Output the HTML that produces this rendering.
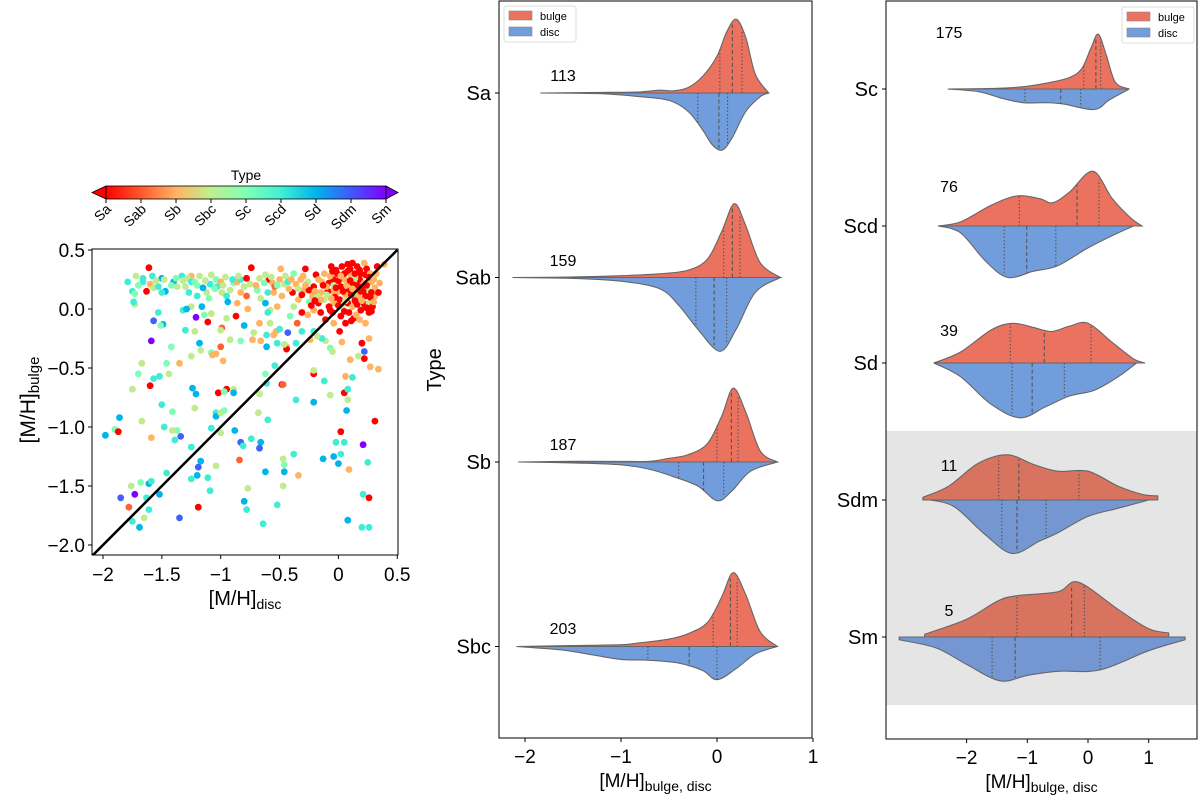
<!DOCTYPE html>
<html><head><meta charset="utf-8"><style>
body{margin:0;background:#fff}
svg{display:block;font-family:"Liberation Sans","DejaVu Sans",sans-serif}
</style></head><body>
<svg id="fig" width="1200" height="797" viewBox="0 0 1200 797" xmlns="http://www.w3.org/2000/svg">
<defs>
<linearGradient id="cbg" x1="0" x2="1" y1="0" y2="0">
<stop offset="0" stop-color="rgb(255,0,0)"/><stop offset="0.125" stop-color="rgb(255,88,45)"/><stop offset="0.25" stop-color="rgb(255,180,99)"/><stop offset="0.375" stop-color="rgb(191,240,143)"/><stop offset="0.5" stop-color="rgb(128,255,180)"/><stop offset="0.625" stop-color="rgb(64,240,212)"/><stop offset="0.75" stop-color="rgb(0,180,236)"/><stop offset="0.875" stop-color="rgb(64,88,251)"/><stop offset="1" stop-color="rgb(128,0,255)"/>
</linearGradient>
<clipPath id="scClip"><rect x="92" y="249" width="306" height="306"/></clipPath>
</defs>
<g id="scatterPanel"></g>
<g id="midPanel"></g>
<g id="rightPanel"></g>
</svg>
<script>
const typeNames = ["Sa","Sab","Sb","Sbc","Sc","Scd","Sd","Sdm","Sm"];
// scatter: [disc, bulge, typeIndex]
const scatterPoints = [
[-1.98,-1.07,6],[-1.86,-0.92,6],[-1.9,-1.02,4],[-1.87,-1.04,0],[-1.85,-1.6,7],[-1.73,-1.57,8],[-1.78,-1.68,1],[-1.75,-1.8,5],[-1.69,-1.85,6],[-1.76,-1.5,3],[-1.68,-1.47,4],[-1.61,-1.48,6],[-1.59,-1.46,5],[-1.63,-1.6,5],[-1.61,-1.7,5],[-1.65,-1.77,3],[-1.52,-1.57,6],[-1.46,-1.39,5],[-1.35,-1.77,7],[-1.25,-1.44,5],[-1.19,-1.68,0],[-1.17,-1.29,6],[-1.19,-1.34,7],[-1.2,-1.41,6],[-1.11,-1.43,5],[-1.09,-1.54,5],[-1.04,-1.33,3],[-1.25,-1.17,5],[-1.34,-1.08,7],[-1.39,-1.11,5],[-1.37,-1.03,4],[-1.41,-1.03,3],[-1.48,-1.0,5],[-1.5,-0.81,5],[-1.41,-0.87,4],[-1.67,-0.95,3],[-1.59,-1.09,2],[-1.75,-0.68,3],[-1.7,-0.55,4],[-1.67,-0.46,3],[-1.6,-0.65,0],[-1.57,-0.59,5],[-1.52,-0.57,5],[-1.46,-0.46,4],[-1.44,-0.55,3],[-1.42,-0.32,4],[-1.35,-0.46,2],[-1.59,-0.27,8],[-1.57,-0.1,7],[-1.49,-0.13,6],[-1.53,-0.03,5],[-1.51,-0.14,4],[-1.21,-0.07,8],[-1.24,-0.67,6],[-1.21,-0.72,6],[-1.22,-0.84,3],[-1.18,-0.29,6],[-1.17,-0.35,3],[-1.25,-0.4,3],[-1.3,-0.18,5],[-1.22,-0.19,3],[-1.08,-0.37,4],[-1.07,-0.39,2],[-1.04,-0.38,2],[-0.98,-0.44,2],[-1.0,-0.32,1],[-1.02,-0.71,0],[-0.95,-0.68,0],[-0.97,-0.7,4],[-0.89,-0.68,3],[-0.89,-0.71,6],[-1.04,-0.88,5],[-1.04,-0.91,6],[-1.0,-0.88,3],[-0.97,-0.86,4],[-1.08,-1.01,5],[-1.0,-1.05,3],[-0.88,-1.03,6],[-0.83,-1.13,7],[-0.81,-1.16,5],[-0.84,-1.28,1],[-0.74,-1.1,5],[-0.66,-1.13,6],[-0.67,-1.18,7],[-0.62,-1.38,6],[-0.77,-1.52,3],[-0.8,-1.63,6],[-0.78,-1.7,5],[-0.64,-1.82,5],[-0.52,-1.66,5],[-0.47,-1.5,3],[-0.46,-1.38,6],[-0.47,-1.27,3],[-0.46,-1.32,4],[-0.38,-1.23,5],[-0.34,-1.41,2],[-0.6,-0.94,5],[-0.68,-0.88,3],[-0.67,-0.72,3],[-0.61,-0.63,5],[-0.62,-0.55,4],[-0.54,-0.48,5],[-0.48,-0.64,0],[-0.47,-0.64,1],[-0.36,-0.77,5],[-0.21,-0.79,6],[-0.21,-0.55,0],[-0.21,-0.52,3],[-0.12,-0.61,5],[-0.07,-0.73,3],[-0.13,-1.27,6],[-0.04,-1.25,6],[-0.02,-1.13,5],[0,-1.31,6],[0.02,-1.23,5],[0.02,-1.04,0],[0.05,-1.13,5],[0.09,-1.36,2],[0.07,-0.86,6],[0.08,-0.77,3],[0.05,-0.71,0],[0.08,-0.68,5],[0.06,-0.57,2],[0.12,-0.58,5],[0.1,-0.43,2],[0.21,-1.15,8],[0.25,-1.3,5],[0.21,-1.57,5],[0.26,-1.6,0],[0.08,-1.79,6],[0.2,-1.85,5],[0.26,-1.85,5],[0.31,-0.95,0],[0.27,-0.49,2],[0.34,-0.51,2],[0.22,-0.42,0],[0.17,-0.4,3],[0.22,-0.36,7],[0.2,-0.29,0],[0.26,-0.25,2],[0.01,-0.19,0],[0.03,-0.28,2],[-0.11,-0.27,3],[-0.07,-0.33,4],[-0.05,-0.36,3],[-0.14,-0.25,5],[-0.18,-0.23,3],[-0.24,-0.26,2],[-0.21,-0.19,5],[-0.31,-0.19,5],[-0.36,-0.29,5],[-0.44,-0.32,2],[-0.44,-0.34,0],[-0.46,-0.3,3],[-0.52,-0.29,5],[-0.53,-0.19,2],[-0.55,-0.22,2],[-0.66,-0.27,2],[-0.73,-0.26,2],[-0.72,-0.2,3],[-0.83,-0.27,4],[-0.92,-0.26,3],[-0.61,-0.22,5],[-0.61,-0.32,6],[-0.5,-0.17,5],[-0.43,-0.2,7],[-0.58,-0.12,3],[-0.67,-0.12,2],[-0.8,-0.14,6],[-0.87,-0.06,0],[-0.95,-0.08,3],[-0.99,-0.16,1],[-1.0,-0.18,3],[-1.11,-0.11,0],[-1.08,-0.04,3],[-1.14,-0.05,4],[-1.16,0.02,6],[-1.25,0.02,3],[-1.32,-0.01,5],[-1.29,0,6],[-1.73,0.04,3],[-1.74,0.06,5],
[-1.79,0.23,5],[-1.75,0.15,5],[-1.73,0.13,4],[-1.72,0.28,3],[-1.66,0.26,5],[-1.61,0.35,0],[-1.63,0.15,0],[-1.66,0.23,5],[-1.6,0.21,2],[-1.57,0.18,3],[-1.58,0.28,5],[-1.5,0.26,6],[-1.48,0.25,3],[-1.53,0.19,5],[-1.47,0.15,6],[-1.5,0.14,5],[-1.4,0.23,6],[-1.38,0.26,4],[-1.33,0.28,5],[-1.37,0.19,3],[-1.3,0.19,3],[-1.25,0.28,2],[-1.28,0.26,3],[-1.25,0.23,5],[-1.2,0.2,4],[-1.18,0.28,3],[-1.27,0.14,5],[-1.2,0.11,5],[-1.12,0.14,3],[-1.1,0.09,4],[-1.15,0.18,6],[-1.08,0.29,3],[-1.09,0.21,5],[-1.04,0.25,4],[-1.03,0.19,5],[-1.0,0.23,2],[-0.98,0.2,3],[-0.99,0.14,3],[-0.95,0.11,5],[-0.94,0.06,6],[-0.92,0.16,3],[-0.89,0.22,4],[-0.86,0.23,2],[-0.83,0.25,5],[-0.83,0.14,2],[-0.86,0.05,2],[-0.78,0.11,1],[-0.77,0.0,2],[-0.78,0.26,0],[-0.74,0.35,0],[-0.75,0.21,3],[-0.69,0.16,4],[-0.66,0.09,3],[-0.62,0.05,6],[-0.6,0.14,5],[-0.59,0.25,0],[-0.62,0.29,3],[-0.56,0.22,2],[-0.55,0.14,2],[-0.54,0.19,1],[-0.49,0.34,2],[-0.5,0.25,2],[-0.46,0.21,3],[-0.43,0.23,5],[-0.48,0.11,2],[-0.52,0.02,2],[-0.58,-0.01,3],[-0.6,-0.03,5],[-0.38,0.3,4],[-0.39,0.14,0],[-0.36,0.21,2],[-0.28,0.34,0],[-0.32,0.25,2],[-0.29,0.16,2],[-0.34,0.08,2],[-0.38,0.02,3],[-0.41,-0.06,4],[-0.31,-0.03,0],[-0.35,-0.12,1],[-0.26,-0.05,2],[-0.19,0.29,0],[-0.21,0.19,0],[-0.22,0.11,2],[-0.17,0.05,0],[-0.15,0.14,2],[-0.14,0.23,2],[-0.12,0.3,2],[-0.08,0.22,0],[-0.06,0.36,0],[-0.05,0.15,2],[-0.11,-0.09,0],[-0.04,-0.12,2],[-0.05,-0.03,0],[0.02,-0.06,0],[0.06,-0.12,0],[0.13,-0.08,0],[0.18,-0.09,2],[0.23,-0.12,2],[0.26,-0.03,0],[-0.04,0.25,0],[-0.01,0.3,0],[0.03,0.36,0],[0.08,0.32,0],[0.12,0.39,0],[0.16,0.36,0],[0.19,0.3,0],[0.22,0.39,2],[0.02,0.19,0],[0.05,0.25,2],[0.09,0.16,0],[0.12,0.22,0],[0.15,0.14,2],[0.18,0.25,0],[0.2,0.19,0],[0.25,0.16,3],[0.31,0.11,2],[0.31,0.18,2],[0.28,0.23,2],[0.33,0.36,0],[0.39,0.38,2],[0.01,0.08,0],[0.08,0.05,0],[0.12,0.02,2],[0.16,0.04,0],[0.22,0.04,0],[0.26,0.05,3],[0.28,-0.02,0],[-0.04,0.05,2],[-0.08,0.02,0],[-0.15,-0.03,0],[-0.21,-0.01,2],[0.03,0.02,3],[0.13,0.11,4],[0.06,0.12,2],[-0.01,0.14,2],[0.11,0.28,2],[0.23,0.29,0],[-0.04,0.2,3],[-0.12,0.08,3],[-0.25,0.06,4],[-0.18,0.11,3],[-0.25,0.16,0],[-0.26,0.23,3],[0.14,0.26,3],[0.23,0.11,0],[0.29,0.02,0],[-0.09,0.15,0],[0.09,-0.03,0],[0.15,-0.05,2],[0.19,-0.01,0],
[-0.02,0.33,0],[0.05,0.3,0],[0.1,0.34,0],[0.14,0.3,0],[0.18,0.33,0],[0.24,0.34,0],[0.27,0.3,2],[-0.07,0.28,2],[0.0,0.24,0],[0.07,0.2,2],[0.1,0.24,0],[0.16,0.2,0],[0.22,0.22,2],[0.26,0.27,0],[0.3,0.25,2],[-0.1,0.19,2],[-0.03,0.1,0],[0.04,0.15,0],[0.11,0.12,0],[0.17,0.1,2],[0.21,0.15,0],[0.27,0.1,0],[0.3,0.06,2],[-0.06,0.09,2],[0.0,0.03,0],[0.06,0.07,3],[0.14,0.07,0],[0.2,0.07,2],[0.24,0.01,0],[-0.13,0.2,0],[-0.17,0.25,2],[-0.2,0.15,2],[-0.1,0.12,3],[-0.28,0.2,2],[-0.31,0.12,0],[-0.23,0.03,0],[-0.3,0.28,2],[-0.34,0.17,3],[-0.4,0.25,2],[-0.42,0.17,2],[-0.45,0.28,3],[-0.52,0.2,4],[-0.57,0.27,3],[-0.63,0.22,4],[-0.67,0.26,3],[-0.7,0.2,2],[-0.8,0.19,3],[-0.85,0.28,3],[-0.9,0.25,5],[-0.96,0.27,3],[-1.05,0.17,4],[-1.13,0.24,3],[-1.22,0.23,4],[-1.32,0.24,3],[-1.42,0.2,4],[-1.55,0.24,3],[-1.7,0.2,4],[0.32,0.3,2],[0.35,0.22,2],[0.34,0.14,0],[0.02,0.28,2],[0.08,0.38,0],[-0.05,0.32,0],[0.12,0.17,2],[0.19,0.15,0],[-0.15,0.08,2],[-0.07,-0.01,0],[0.05,-0.02,0],[0.11,-0.1,0],[-0.2,0.07,0],[-0.02,0.18,0],[0.28,0.14,0],[0.24,0.2,0]
];
const scXTicks = [-2,-1.5,-1,-0.5,0,0.5];
const scXTickLabels = ["−2","−1.5","−1","−0.5","0","0.5"];
const scYTicks = [0.5,0,-0.5,-1,-1.5,-2];
const scYTickLabels = ["0.5","0.0","−0.5","−1.0","−1.5","−2.0"];

// violins: densities as [x, half-width in category units]
const midCats = ["Sa","Sab","Sb","Sbc"];
const midCounts = ["113","159","187","203"];
const midBulge = [
 [[-1.84,0],[-1.2,0.003],[-0.8,0.006],[-0.6,0.015],[-0.45,0.012],[-0.3,0.03],[-0.15,0.09],[0.0,0.2],[0.1,0.33],[0.2,0.40],[0.3,0.3],[0.4,0.1],[0.54,0]],
 [[-2.13,0],[-1.5,0.003],[-1,0.01],[-0.6,0.02],[-0.3,0.04],[-0.1,0.1],[0.05,0.25],[0.18,0.40],[0.3,0.28],[0.45,0.08],[0.66,0]],
 [[-2.07,0],[-1.5,0.004],[-1,0.003],[-0.7,0.004],[-0.5,0.02],[-0.3,0.04],[-0.1,0.1],[0.05,0.25],[0.17,0.40],[0.3,0.27],[0.45,0.06],[0.63,0]],
 [[-2.09,0],[-1.5,0.005],[-1,0.01],[-0.8,0.02],[-0.5,0.04],[-0.3,0.07],[-0.1,0.13],[0.05,0.27],[0.17,0.40],[0.3,0.28],[0.45,0.08],[0.63,0]]
];
const midDisc = [
 [[-1.84,0],[-1.2,0.004],[-0.8,0.02],[-0.5,0.04],[-0.3,0.1],[-0.15,0.2],[-0.05,0.28],[0.05,0.31],[0.15,0.25],[0.3,0.1],[0.45,0.02],[0.54,0]],
 [[-2.13,0],[-1.5,0.005],[-1,0.02],[-0.6,0.06],[-0.4,0.15],[-0.2,0.28],[0.03,0.40],[0.2,0.28],[0.4,0.08],[0.66,0]],
 [[-2.07,0],[-1.5,0.005],[-1,0.015],[-0.7,0.04],[-0.45,0.08],[-0.2,0.13],[0,0.21],[0.15,0.16],[0.35,0.05],[0.63,0]],
 [[-2.09,0],[-1.6,0.02],[-1.3,0.045],[-1,0.07],[-0.7,0.075],[-0.4,0.09],[-0.15,0.13],[0,0.18],[0.2,0.12],[0.4,0.04],[0.63,0]]
];
const midBulgeQ = [[0.03,0.16,0.26],[0.07,0.16,0.24],[0.0,0.15,0.22],[-0.04,0.14,0.21]];
const midDiscQ = [[-0.2,0.02,0.11],[-0.22,-0.03,0.1],[-0.4,-0.14,0.07],[-0.72,-0.29,0.0]];
const midXTicks = [-2,-1,0,1];
const midXTickLabels = ["−2","−1","0","1"];

const rightCats = ["Sc","Scd","Sd","Sdm","Sm"];
const rightCounts = ["175","76","39","11","5"];
const rightBulge = [
 [[-2.31,0],[-1.5,0.005],[-1,0.02],[-0.6,0.05],[-0.3,0.085],[-0.1,0.15],[0.05,0.3],[0.17,0.40],[0.3,0.25],[0.45,0.05],[0.68,0]],
 [[-2.47,0],[-2.1,0.03],[-1.6,0.15],[-1.17,0.22],[-0.8,0.2],[-0.58,0.17],[-0.3,0.25],[0.08,0.40],[0.4,0.2],[0.7,0.06],[0.89,0]],
 [[-2.54,0],[-2.1,0.08],[-1.6,0.24],[-1.25,0.29],[-0.9,0.26],[-0.6,0.23],[-0.3,0.27],[0.0,0.29],[0.4,0.15],[0.75,0.03],[0.94,0]],
 [[-2.72,0.02],[-2.3,0.1],[-1.8,0.27],[-1.33,0.33],[-0.9,0.26],[-0.5,0.21],[0,0.21],[0.5,0.1],[0.9,0.04],[1.15,0.03]],
 [[-2.69,0.02],[-2.0,0.13],[-1.5,0.26],[-1.2,0.30],[-0.5,0.33],[-0.16,0.40],[0.5,0.2],[1.0,0.06],[1.33,0.03]]
];
const rightDisc = [
 [[-2.31,0],[-1.8,0.02],[-1.4,0.07],[-1.07,0.10],[-0.7,0.10],[-0.4,0.11],[0.1,0.15],[0.35,0.08],[0.68,0]],
 [[-2.47,0],[-2.1,0.05],[-1.7,0.25],[-1.33,0.375],[-0.9,0.33],[-0.5,0.29],[0,0.16],[0.4,0.07],[0.75,0]],
 [[-2.54,0],[-2.1,0.1],[-1.6,0.3],[-1.12,0.40],[-0.7,0.32],[-0.3,0.24],[0.1,0.2],[0.5,0.1],[0.8,0]],
 [[-2.6,0],[-2.2,0.05],[-1.7,0.25],[-1.25,0.39],[-0.8,0.3],[-0.5,0.24],[0,0.12],[0.5,0.06],[1.0,0]],
 [[-3.11,0.02],[-2.5,0.08],[-2.0,0.2],[-1.45,0.32],[-1.0,0.28],[-0.5,0.25],[0.2,0.24],[1.0,0.1],[1.6,0.02]]
];
const rightBulgeQ = [[-0.07,0.13,0.21],[-1.13,-0.18,0.18],[-1.28,-0.72,0.05],[-1.47,-1.14,-0.15],[-1.17,-0.27,-0.06]];
const rightDiscQ = [[-1.04,-0.45,-0.12],[-1.38,-1.01,-0.53],[-1.25,-0.92,-0.39],[-1.42,-1.17,-0.69],[-1.58,-1.2,0.2]];
const rightXTicks = [-2,-1,0,1];
const rightXTickLabels = ["−2","−1","0","1"];

const NS = "http://www.w3.org/2000/svg";
function mk(parent, tag, attrs, text){
  const e = document.createElementNS(NS, tag);
  for (const k in attrs) e.setAttribute(k, attrs[k]);
  if (text !== undefined) e.textContent = text;
  parent.appendChild(e);
  return e;
}
function rainbowR(t){
  const x = 1 - t/8;
  const r = Math.min(1, Math.abs(2*x - 0.5)), g = Math.sin(Math.PI*x), b = Math.cos(Math.PI*x/2);
  return `rgb(${Math.round(r*255)},${Math.round(g*255)},${Math.round(b*255)})`;
}

/* ---------- scatter ---------- */
const sc = document.getElementById('scatterPanel');
const sx = v => 103 + (v + 2) * 117.7;
const sy = v => 309 - v * 118;
const pts = mk(sc, 'g', {'clip-path':'url(#scClip)'});


scatterPoints.forEach(p => {
  const c = mk(pts, 'circle', {cx: sx(p[0]).toFixed(1), cy: sy(p[1]).toFixed(1), r: 3.4, fill: rainbowR(p[2])});
  
  
});
const diag = mk(pts, 'line', {x1: sx(-2.1), y1: sy(-2.1), x2: sx(0.5), y2: sy(0.5), stroke: '#000', 'stroke-width': 2.5});


const scFrame = mk(sc, 'rect', {x: 92, y: 249, width: 306, height: 306, fill: 'none', stroke: '#000', 'stroke-width': 1});


scXTicks.forEach((v, i) => {
  mk(sc, 'line', {x1: sx(v), x2: sx(v), y1: 555, y2: 559, stroke: '#000'});
  const t = mk(sc, 'text', {x: sx(v), y: 581, 'font-size': 19, 'text-anchor': 'middle'}, scXTickLabels[i]);
  
  
});
scYTicks.forEach((v, i) => {
  mk(sc, 'line', {x1: 88, x2: 92, y1: sy(v), y2: sy(v), stroke: '#000'});
  const t = mk(sc, 'text', {x: 85, y: sy(v) + 7, 'font-size': 19, 'text-anchor': 'end'}, scYTickLabels[i]);
  
  
});
const sxl = mk(sc, 'text', {x: 245, y: 605, 'font-size': 20, 'text-anchor': 'middle'});
sxl.innerHTML = '[M/H]<tspan font-size="14" dy="4">disc</tspan>';


const syl = mk(sc, 'text', {x: 0, y: 0, 'font-size': 21, 'text-anchor': 'middle', transform: 'translate(35,400) rotate(-90)'});
syl.innerHTML = '[M/H]<tspan font-size="15" dy="4">bulge</tspan>';


/* colorbar */
const cb = mk(sc, 'g', {});


mk(cb, 'polygon', {points: '106,186 92,192.5 106,199', fill: 'rgb(255,0,0)', stroke: '#000', 'stroke-width': 0.8});
mk(cb, 'polygon', {points: '386,186 398,192.5 386,199', fill: 'rgb(128,0,255)', stroke: '#000', 'stroke-width': 0.8});
mk(cb, 'rect', {x: 106, y: 186, width: 280, height: 13, fill: 'url(#cbg)', stroke: '#000', 'stroke-width': 0.8});
const cbt = mk(cb, 'text', {x: 246, y: 180, 'font-size': 14, 'text-anchor': 'middle'}, 'Type');


typeNames.forEach((n, i) => {
  const x = 106 + i * 35;
  mk(cb, 'line', {x1: x, x2: x, y1: 199, y2: 203, stroke: '#000'});
  const t = mk(cb, 'text', {x: 0, y: 0, 'font-size': 14, 'text-anchor': 'end', transform: `translate(${x + 6},${210}) rotate(-45)`}, n);
  
  
});

/* ---------- violins ---------- */
function smoothPath(pts){
  let d = '';
  for (let i = 0; i < pts.length - 1; i++){
    const p0 = pts[Math.max(0, i-1)], p1 = pts[i], p2 = pts[i+1], p3 = pts[Math.min(pts.length-1, i+2)];
    const c1x = p1[0] + (p2[0]-p0[0])/6, c1y = p1[1] + (p2[1]-p0[1])/6;
    const c2x = p2[0] - (p3[0]-p1[0])/6, c2y = p2[1] - (p3[1]-p1[1])/6;
    d += ` C${c1x.toFixed(1)},${c1y.toFixed(1)} ${c2x.toFixed(1)},${c2y.toFixed(1)} ${p2[0].toFixed(1)},${p2[1].toFixed(1)}`;
  }
  return d;
}
function interpW(arr, x){
  for (let i = 0; i < arr.length - 1; i++){
    if (x >= arr[i][0] && x <= arr[i+1][0]){
      const f = (x - arr[i][0]) / (arr[i+1][0] - arr[i][0]);
      return arr[i][1] + f * (arr[i+1][1] - arr[i][1]);
    }
  }
  return 0;
}
function drawHalf(g, dens, q, base, dir, xf, scale, fill, name){
  const pp = dens.map(p => [xf(p[0]), base + dir * p[1] * scale]);
  let d = `M${xf(dens[0][0]).toFixed(1)},${base} L${pp[0][0].toFixed(1)},${pp[0][1].toFixed(1)}` + smoothPath(pp) + ` L${xf(dens[dens.length-1][0]).toFixed(1)},${base} Z`;
  const path = mk(g, 'path', {d: d, fill: fill, stroke: '#666', 'stroke-width': 1.1});
  
  
  q.forEach((qv, k) => {
    const w = interpW(dens, qv) * scale;
    mk(g, 'line', {x1: xf(qv), x2: xf(qv), y1: base, y2: base + dir * w, stroke: '#555', 'stroke-width': 1.1, 'stroke-dasharray': k === 1 ? '4,2.5' : '1.5,2'});
  });
}
function legend(g, x, y){
  const lg = mk(g, 'g', {});
  
  
  mk(lg, 'rect', {x: x, y: y, width: 72, height: 36, rx: 2, fill: '#fff', stroke: '#ddd'});
  mk(lg, 'rect', {x: x + 5, y: y + 5, width: 23, height: 9, fill: '#ea725e', stroke: '#888', 'stroke-width': 0.6});
  mk(lg, 'rect', {x: x + 5, y: y + 21, width: 23, height: 9, fill: '#729ddc', stroke: '#888', 'stroke-width': 0.6});
  const t1 = mk(lg, 'text', {x: x + 36, y: y + 14, 'font-size': 11}, 'bulge');
  
  
  const t2 = mk(lg, 'text', {x: x + 36, y: y + 30, 'font-size': 11}, 'disc');
  
  
}
function violinPanel(gid, box, x0, xs, c0, cs, cats, counts, countY, bulge, disc, bq, dq, ticks, tlabels, band){
  const g = document.getElementById(gid);
  const xf = v => x0 + v * xs;
  if (band){
    const b = mk(g, 'rect', {x: box[0], y: band[0], width: box[2]-box[0], height: band[1]-band[0], fill: '#e5e5e5'});
    
    
  }
  cats.forEach((c, i) => {
    const base = c0 + i * cs;
    const vg = mk(g, 'g', {});
    
    
    const inBand = band && base > band[0] && base < band[1];
    drawHalf(vg, bulge[i], bq[i], base, -1, xf, cs, inBand ? '#d8735f' : '#ea725e', 'violin-bulge-' + c.toLowerCase());
    drawHalf(vg, disc[i], dq[i], base, 1, xf, cs, inBand ? '#7497d2' : '#729ddc', 'violin-disc-' + c.toLowerCase());
    const ct = mk(g, 'text', {x: box[0] + (gid === 'midPanel' ? 64 : 63), y: countY[i], 'font-size': 16, 'text-anchor': 'middle'}, counts[i]);
    
    
    mk(g, 'line', {x1: box[0] - 4, x2: box[0], y1: base, y2: base, stroke: '#000'});
    const yl = mk(g, 'text', {x: box[0] - 8, y: base + 7, 'font-size': 20, 'text-anchor': 'end'}, c);
    
    
  });
  const fr = mk(g, 'rect', {x: box[0], y: box[1], width: box[2]-box[0], height: box[3]-box[1], fill: 'none', stroke: '#000', 'stroke-width': 1});
  
  
  ticks.forEach((v, i) => {
    mk(g, 'line', {x1: xf(v), x2: xf(v), y1: box[3], y2: box[3] + 4, stroke: '#000'});
    const t = mk(g, 'text', {x: xf(v), y: box[3] + 25, 'font-size': 19, 'text-anchor': 'middle'}, tlabels[i]);
    
    
  });
  const xl = mk(g, 'text', {x: (box[0] + box[2]) / 2, y: box[3] + 49, 'font-size': 19, 'text-anchor': 'middle'});
  xl.innerHTML = '[M/H]<tspan font-size="14" dy="4">bulge, disc</tspan>';
  
  
}
violinPanel('midPanel', [499, 1, 812, 738], 717, 96, 93, 184.5, midCats, midCounts, [81,266,450,634], midBulge, midDisc, midBulgeQ, midDiscQ, midXTicks, midXTickLabels, null);
violinPanel('rightPanel', [886, 1, 1197, 739], 1088, 60.7, 89, 137, rightCats, rightCounts, [38,192,336,471,616], rightBulge, rightDisc, rightBulgeQ, rightDiscQ, rightXTicks, rightXTickLabels, [431, 705]);
legend(document.getElementById('midPanel'), 504, 6);
legend(document.getElementById('rightPanel'), 1122, 7);
const typeLbl = mk(document.getElementById('midPanel'), 'text', {x: 0, y: 0, 'font-size': 20, 'text-anchor': 'middle', transform: 'translate(441,370) rotate(-90)'}, 'Type');


</script>
</body></html>
